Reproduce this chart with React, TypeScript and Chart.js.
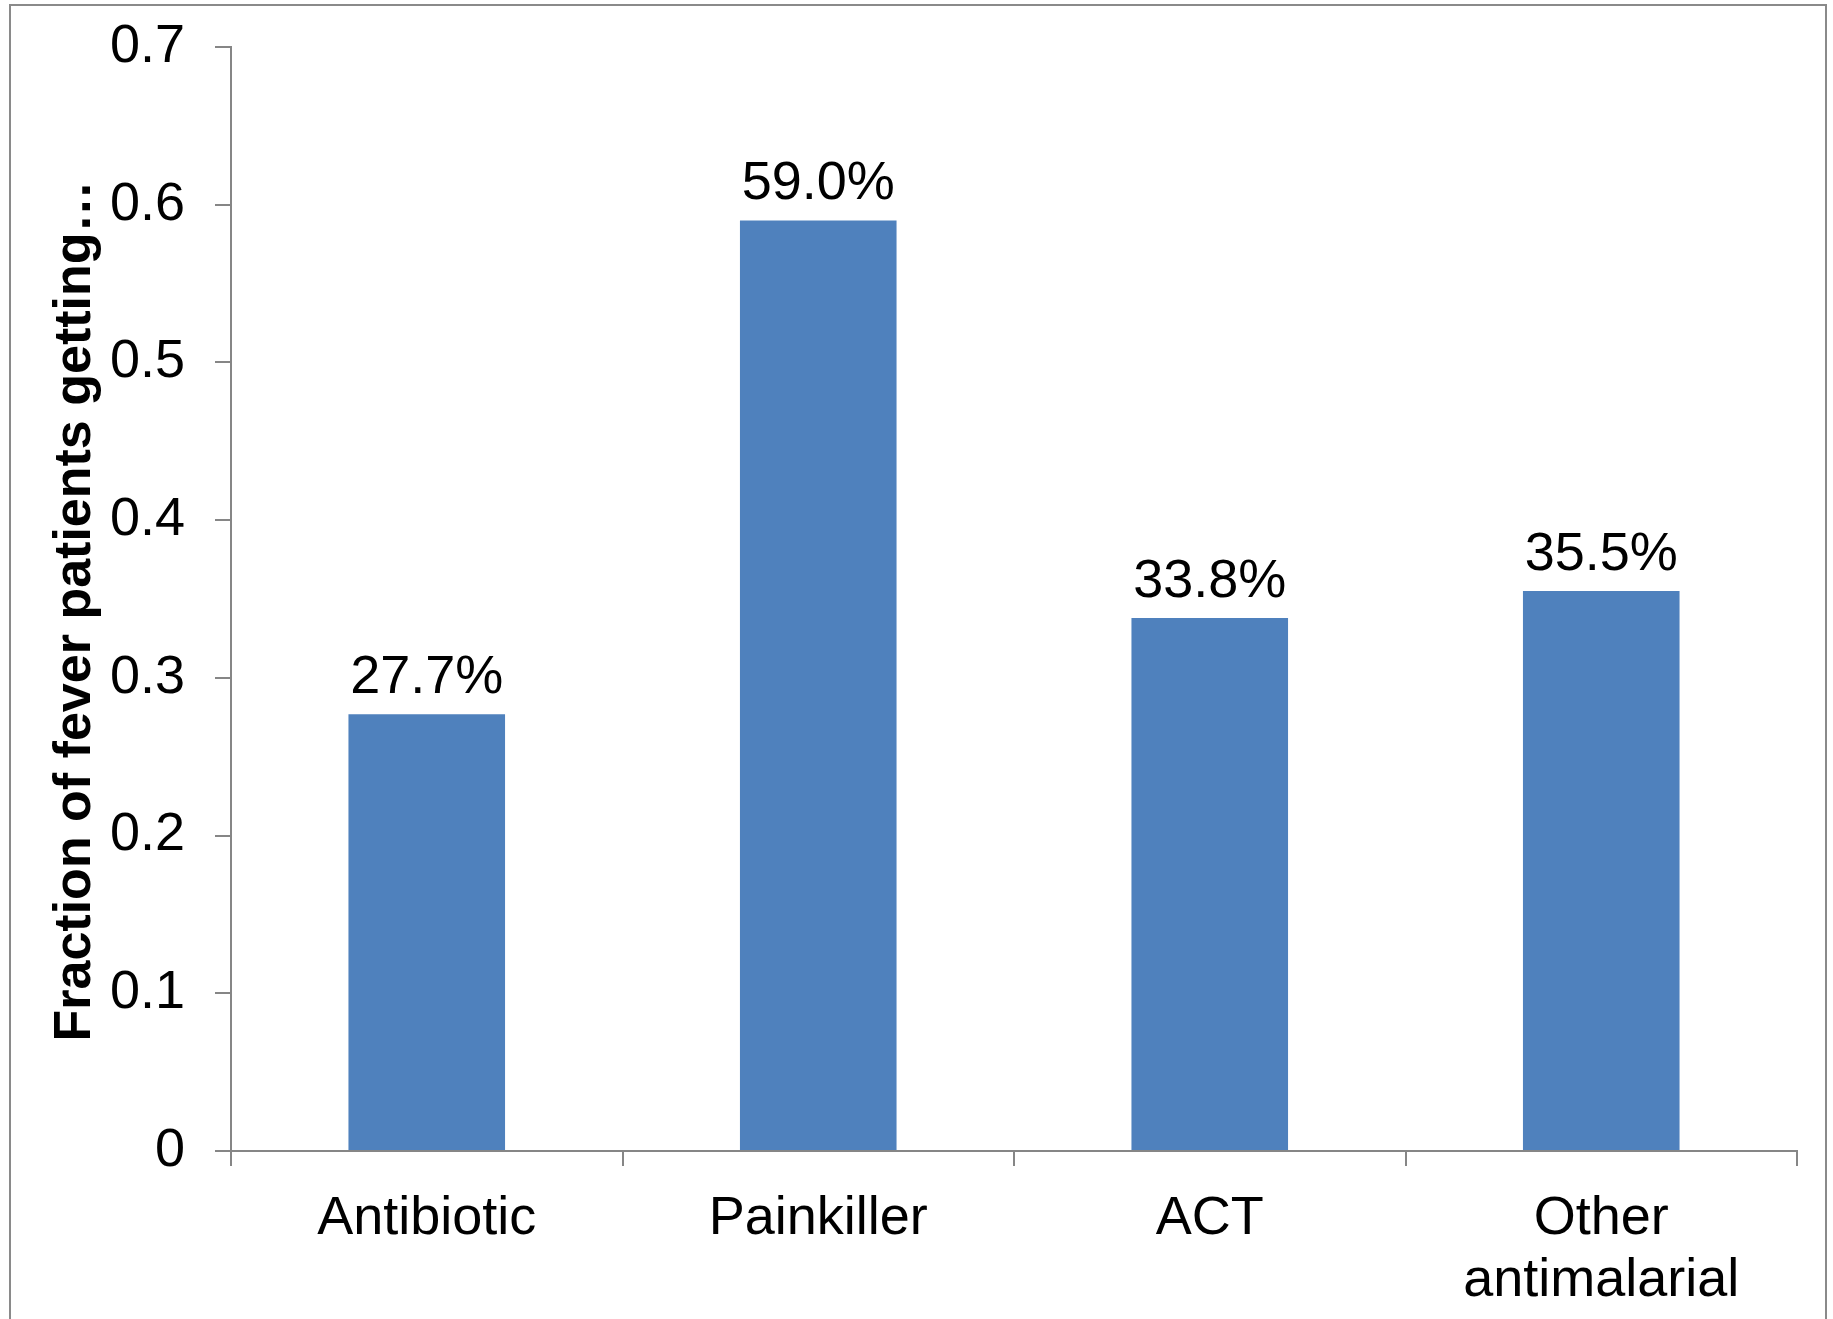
import React, { useEffect, useRef } from 'react';
import { Chart, registerables } from 'chart.js';

Chart.register(...registerables);

const categories: (string | string[])[] = ['Antibiotic', 'Painkiller', 'ACT', ['Other', 'antimalarial']];
const values = [0.277, 0.59, 0.338, 0.355];
const valueLabels = ['27.7%', '59.0%', '33.8%', '35.5%'];
const yTickLabels = ['0', '0.1', '0.2', '0.3', '0.4', '0.5', '0.6', '0.7'];
const yAxisTitle = 'Fraction of fever patients getting\u2026';

const FONT = "'Liberation Sans', Arial, sans-serif";
const AXIS_GRAY = '#868686';

const framePlugin = {
  id: 'frame',
  beforeDraw(chart: any) {
    const ctx = chart.ctx;
    ctx.save();
    ctx.fillStyle = '#ffffff';
    ctx.fillRect(0, 0, chart.width, chart.height);
    ctx.strokeStyle = '#8a8a8a';
    ctx.lineWidth = 2;
    ctx.strokeRect(10, 5, 1816, 1400);
    ctx.restore();
  },
};

const yTitlePlugin = {
  id: 'yTitle',
  afterDraw(chart: any) {
    const ctx = chart.ctx;
    ctx.save();
    ctx.translate(90, 611);
    ctx.rotate(-Math.PI / 2);
    ctx.font = `bold 52px ${FONT}`;
    ctx.fillStyle = '#000000';
    ctx.textAlign = 'center';
    ctx.textBaseline = 'alphabetic';
    ctx.fillText(yAxisTitle, 0, 0);
    ctx.restore();
  },
};

const dataLabelPlugin = {
  id: 'dataLabels',
  afterDatasetsDraw(chart: any) {
    const ctx = chart.ctx;
    const meta = chart.getDatasetMeta(0);
    ctx.save();
    ctx.font = `54px ${FONT}`;
    ctx.fillStyle = '#000000';
    ctx.textAlign = 'center';
    ctx.textBaseline = 'alphabetic';
    meta.data.forEach((bar: any, i: number) => {
      ctx.fillText(valueLabels[i], bar.x, bar.y - 21);
    });
    ctx.restore();
  },
};

export default function App() {
  const canvasRef = useRef<HTMLCanvasElement | null>(null);

  useEffect(() => {
    document.body.style.margin = '0';
    document.body.style.overflow = 'hidden';
    const canvas = canvasRef.current;
    if (!canvas) return;
    const chart = new Chart(canvas, {
      type: 'bar',
      data: {
        labels: categories as any,
        datasets: [
          {
            data: values,
            backgroundColor: '#4F81BD',
            borderWidth: 0,
            barPercentage: 0.4,
            categoryPercentage: 1.0,
          },
        ],
      },
      options: {
        animation: false,
        responsive: false,
        devicePixelRatio: 1,
        layout: { padding: { top: 47, right: 36, bottom: 0, left: 0 } },
        plugins: {
          legend: { display: false },
          tooltip: { enabled: false },
          title: { display: false },
        },
        scales: {
          x: {
            type: 'category',
            offset: true,
            grid: {
              display: true,
              offset: true,
              drawOnChartArea: false,
              drawTicks: true,
              tickLength: 15,
              color: AXIS_GRAY,
              lineWidth: 2,
            },
            border: { display: true, color: AXIS_GRAY, width: 2 },
            ticks: {
              color: '#000000',
              font: { family: FONT, size: 54, lineHeight: 1.15 },
              padding: 22,
              maxRotation: 0,
              minRotation: 0,
              autoSkip: false,
            },
            afterFit(scale: any) {
              scale.height = 168;
              scale.paddingLeft = 0;
              scale.paddingRight = 0;
            },
          },
          y: {
            min: 0,
            max: 0.7,
            grid: {
              display: true,
              drawOnChartArea: false,
              drawTicks: true,
              tickLength: 16,
              color: AXIS_GRAY,
              lineWidth: 2,
            },
            border: { display: true, color: AXIS_GRAY, width: 2 },
            ticks: {
              stepSize: 0.1,
              color: '#000000',
              font: { family: FONT, size: 54 },
              padding: 30,
              callback: (_v: any, i: number) => yTickLabels[i],
            },
            title: { display: false },
            afterFit(scale: any) {
              scale.width = 231;
              scale.paddingTop = 0;
              scale.paddingBottom = 0;
            },
          },
        },
      },
      plugins: [framePlugin, dataLabelPlugin, yTitlePlugin],
    });
    return () => chart.destroy();
  }, []);

  return (
    <div style={{ width: 1833, height: 1319, position: 'relative' }}>
      <canvas ref={canvasRef} width={1833} height={1319} style={{ display: 'block' }} />
    </div>
  );
}
